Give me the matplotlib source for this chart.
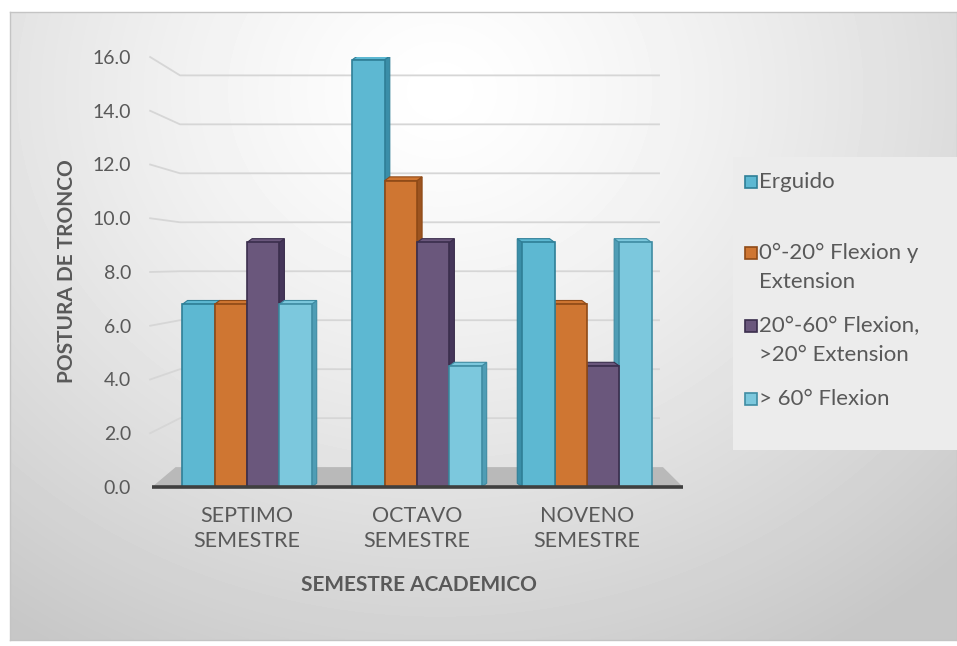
import numpy as np
import matplotlib.pyplot as plt
from matplotlib.patches import Polygon, Rectangle

plt.rcParams['font.family'] = ['Lato', 'DejaVu Sans']

# =========================
# Data
# =========================

categories = ["SEPTIMO\nSEMESTRE", "OCTAVO\nSEMESTRE", "NOVENO\nSEMESTRE"]
series_names = [
    "Erguido",
    "0°-20° Flexion y\nExtension",
    "20°-60° Flexion,\n>20° Extension",
    "> 60° Flexion",
]
erguido = [6.8, 15.9, 9.1]
flex_0_20 = [6.8, 11.4, 6.8]
flex_20_60 = [9.1, 9.1, 4.5]
flex_60 = [6.8, 4.5, 9.1]
y_ticks = [0, 2, 4, 6, 8, 10, 12, 14, 16]

series = [erguido, flex_0_20, flex_20_60, flex_60]

# front / side / edge colours per series
FRONT = ["#5db8d2", "#cf7632", "#6a577c", "#7cc8dd"]
SIDE = ["#3a8ea8", "#9c5420", "#45365a", "#4f9db5"]
EDGE = ["#2f7f97", "#8f4a17", "#3b2e4d", "#3f8ca3"]

TEXT = "#595959"
W, H = 957, 646


def px(x, y):
    """pixel position (from top-left) -> figure fraction"""
    return x / W, 1 - y / H


fig = plt.figure(figsize=(W / 100, H / 100), dpi=100)

# chart area background with a soft radial gradient
bg = fig.add_axes([10 / W, 6 / H, 947 / W, 628 / H], zorder=-10)
gx, gy = np.meshgrid(np.linspace(10, 957, 300), np.linspace(12, 640, 200))
d = np.hypot((gx - 440) / 1.15, gy - 90) / 650
shade = 1 - 0.22 * np.clip(d, 0, 1) ** 1.3
bg.imshow(shade, cmap="gray", vmin=0, vmax=1, aspect="auto",
          extent=[0, 1, 0, 1], interpolation="bilinear")
bg.set_xlim(0, 1)
bg.set_ylim(0, 1)
for s in bg.spines.values():
    s.set_color("#c4c4c4")
    s.set_linewidth(1.0)
bg.set_xticks([])
bg.set_yticks([])

# legend panel
lg = fig.add_axes([733 / W, (H - 450) / H, (957 - 733) / W, (450 - 157) / H], zorder=-5)
lg.set_facecolor("#ececec")
for s in lg.spines.values():
    s.set_visible(False)
lg.set_xticks([])
lg.set_yticks([])

# main plot axes: y=0 at px 487, y=16 at px 57
ax = fig.add_axes([152 / W, (H - 487) / H, (683 - 152) / W, (487 - 57) / H])
ax.set_facecolor("none")
XL, XR = -0.559, 2.565
ax.set_xlim(XL, XR)
ax.set_ylim(0, 16)
for s in ax.spines.values():
    s.set_visible(False)

# back wall gridlines with a short perspective slant
for v in y_ticks[1:]:
    yb = 0.74 + 0.911 * v
    ax.plot([-0.57, -0.394, 2.424], [v, yb, yb], color="#d6d6d6", lw=1.3,
            zorder=1, clip_on=False)

# floor
floor = Polygon([(XL, 0), (XR, 0), (2.447, 0.74), (-0.42, 0.74)],
                closed=True, facecolor="#b9b9b9", edgecolor="none", zorder=1.5)
ax.add_patch(floor)
ax.plot([XL, XR], [0, 0], color="#3f3f3f", lw=2.6, zorder=20,
        solid_capstyle="butt", clip_on=False)

# bars with a small depth face
w = 0.19
dx = 0.03
dy = 0.14
for i, vals in enumerate(series):
    for j, v in enumerate(vals):
        x0 = j + (i - 1.5) * w - w / 2
        x1 = x0 + w
        right_side = j < 2
        z = 3 + i * 0.1 if right_side else 3 + (3 - i) * 0.1
        ax.bar(x0, v, w, align="edge", color=FRONT[i], edgecolor=EDGE[i],
               lw=1.2, zorder=z + 0.05)
        if right_side:
            side = [(x1, 0), (x1, v), (x1 + dx, v + dy), (x1 + dx, dy)]
            top = [(x0, v), (x1, v), (x1 + dx, v + dy), (x0 + dx, v + dy)]
        else:
            side = [(x0, 0), (x0, v), (x0 - dx, v + dy), (x0 - dx, dy)]
            top = [(x0, v), (x1, v), (x1 - dx, v + dy), (x0 - dx, v + dy)]
        ax.add_patch(Polygon(side, closed=True, facecolor=SIDE[i],
                             edgecolor=EDGE[i], lw=0.8, zorder=z))
        ax.add_patch(Polygon(top, closed=True, facecolor=FRONT[i],
                             edgecolor=EDGE[i], lw=0.8, zorder=z))

# ticks and labels
ax.set_yticks(y_ticks)
ax.set_yticklabels([f"{t:.1f}" for t in y_ticks], fontsize=14, color=TEXT)
ax.set_xticks(range(len(categories)))
ax.set_xticklabels(categories, fontsize=15.5, color=TEXT, linespacing=1.3)
ax.tick_params(axis="y", length=0, pad=15)
ax.tick_params(axis="x", length=0, pad=14)

fig.text(*px(67, 271), "POSTURA DE TRONCO", rotation=90, ha="center",
         va="center", fontsize=15, fontweight="bold", color=TEXT)
fig.text(*px(419, 585), "SEMESTRE ACADEMICO", ha="center", va="center",
         fontsize=15, fontweight="bold", color=TEXT)

# legend entries
entry_y = [182, 253, 326, 399]
for i, (name, yy) in enumerate(zip(series_names, entry_y)):
    fig.patches.append(Rectangle(px(745, yy + 6), 12 / W, 12 / H,
                                 transform=fig.transFigure, facecolor=FRONT[i],
                                 edgecolor=EDGE[i], lw=1.2))
    for k, line in enumerate(name.split("\n")):
        fig.text(*px(759, yy + 29 * k), line, ha="left", va="center",
                 fontsize=16, color=TEXT)

fig.savefig("out.png", dpi=100)
